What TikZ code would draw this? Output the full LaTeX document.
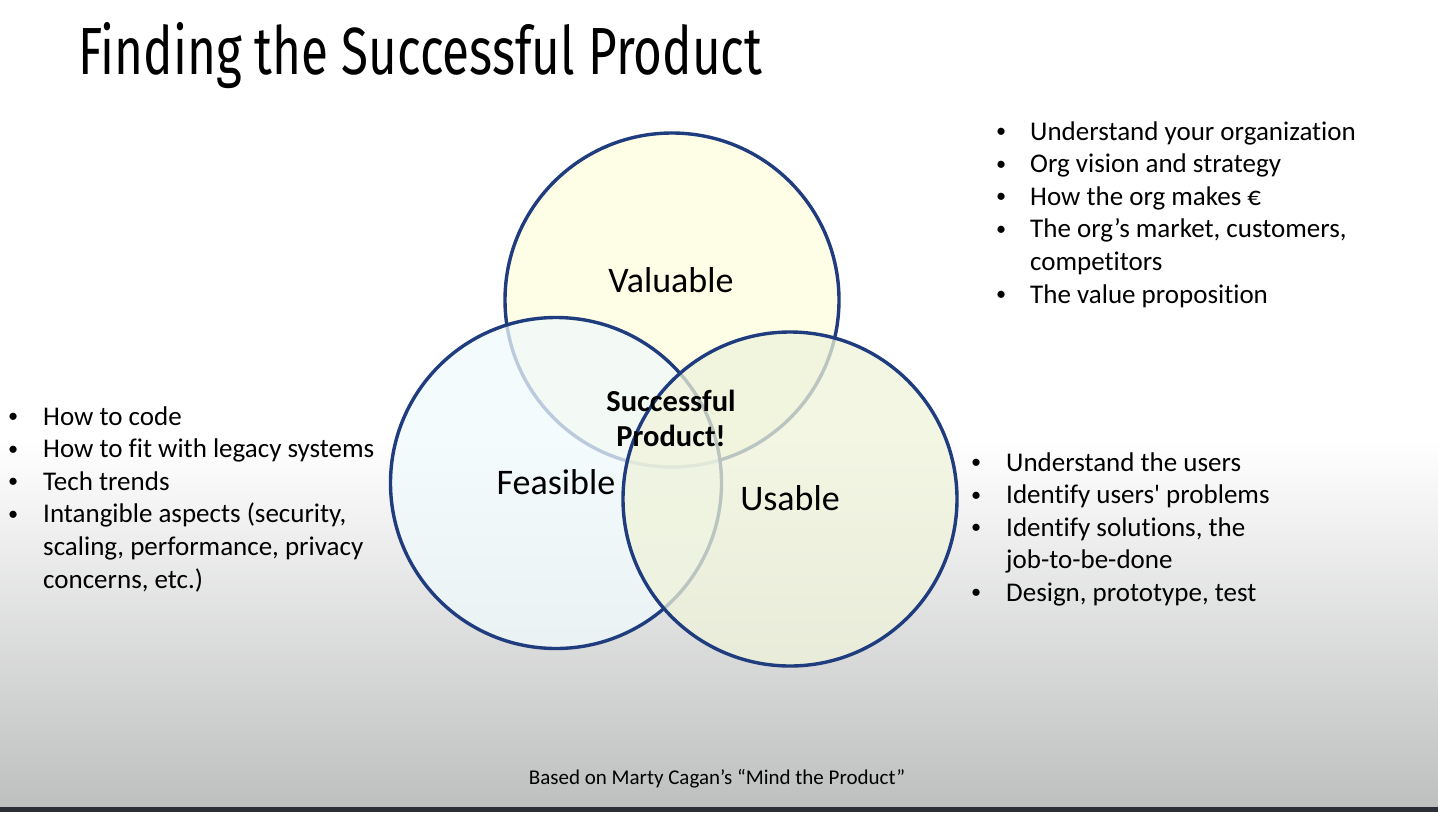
\documentclass[tikz,border=0pt]{standalone}
\usepackage{fontspec}
\usepackage{array}
\setmainfont{Carlito}[Ligatures=NoCommon]
\newfontfamily\titlefont{Fira Sans}
\definecolor{ring}{RGB}{31,60,126}
\definecolor{valfill}{RGB}{254,253,230}
\definecolor{feafill}{RGB}{240,250,252}
\definecolor{usefill}{RGB}{239,243,218}
\definecolor{bgbottom}{RGB}{190,191,191}
\definecolor{strip}{RGB}{43,46,54}
% a slightly smaller list bullet, kept on the x-height centre
\newcommand{\listdot}{\raisebox{0.09em}{\scalebox{0.75}{\textbullet}}}
\begin{document}
\begin{tikzpicture}[x=1pt,y=-1pt,
  venn/.style={circle, draw=ring, line width=3.4pt, inner sep=0pt, minimum size=#1},
  ringlabel/.style={inner sep=0pt, anchor=base, font=\fontsize{36}{42}\selectfont},
  bulletlist/.style={inner sep=0pt, anchor=base west, font=\fontsize{27}{32.6}\selectfont}]
  % page background: white, fading to grey towards the bottom
  \useasboundingbox (0,0) rectangle (1438,812);
  \fill[white] (0,0) rectangle (1438,441);
  \shade[top color=white, bottom color=bgbottom] (0,440) rectangle (1438,807);
  \fill[strip] (0,807) rectangle (1438,812);

  % title
  \node[inner sep=0pt, anchor=base west] (title) at (78,74)
    {\resizebox{684pt}{52pt}{\titlefont Finding the Successful Product}};

  % the three circles
  \node[venn=334pt, fill=valfill] (valuable) at (672,300) {};
  \node[venn=331pt, fill=feafill, fill opacity=0.75] (feasible) at (556,483) {};
  \node[venn=334pt, fill=usefill, fill opacity=0.75] (usable) at (790,499) {};

  % circle labels
  \node[ringlabel] (vallabel) at (671,292) {Valuable};
  \node[ringlabel] (fealabel) at (556,494) {Feasible};
  \node[ringlabel] (uselabel) at (790,510) {Usable};
  \node[inner sep=0pt, align=center, font=\bfseries\fontsize{30.5}{35}\selectfont]
    (center) at (671,418) {Successful\\Product!};

  % bullet lists
  \node[bulletlist] (vallist) at (996,140) {\begin{tabular}[t]{@{}p{34pt}@{}l@{}}
    \listdot & Understand your organization\\
    \listdot & Org vision and strategy\\
    \listdot & How the org makes €\\
    \listdot & The org’s market, customers,\\
             & competitors\\
    \listdot & The value proposition
  \end{tabular}};
  \node[bulletlist] (fealist) at (8,425) {\begin{tabular}[t]{@{}p{35pt}@{}l@{}}
    \listdot & How to code\\
    \listdot & How to fit with legacy systems\\
    \listdot & Tech trends\\
    \listdot & Intangible aspects (security,\\
             & scaling, performance, privacy\\
             & concerns, etc.)
  \end{tabular}};
  \node[bulletlist] (uselist) at (971,471) {\begin{tabular}[t]{@{}p{35pt}@{}l@{}}
    \listdot & Understand the users\\
    \listdot & Identify users\textquotesingle{} problems\\
    \listdot & Identify solutions, the\\
             & job-to-be-done\\
    \listdot & Design, prototype, test
  \end{tabular}};

  % source note
  \node[inner sep=0pt, anchor=base, font=\fontsize{21}{25}\selectfont] (source) at (717,784)
    {Based on Marty Cagan’s “Mind the Product”};
\end{tikzpicture}
\end{document}
